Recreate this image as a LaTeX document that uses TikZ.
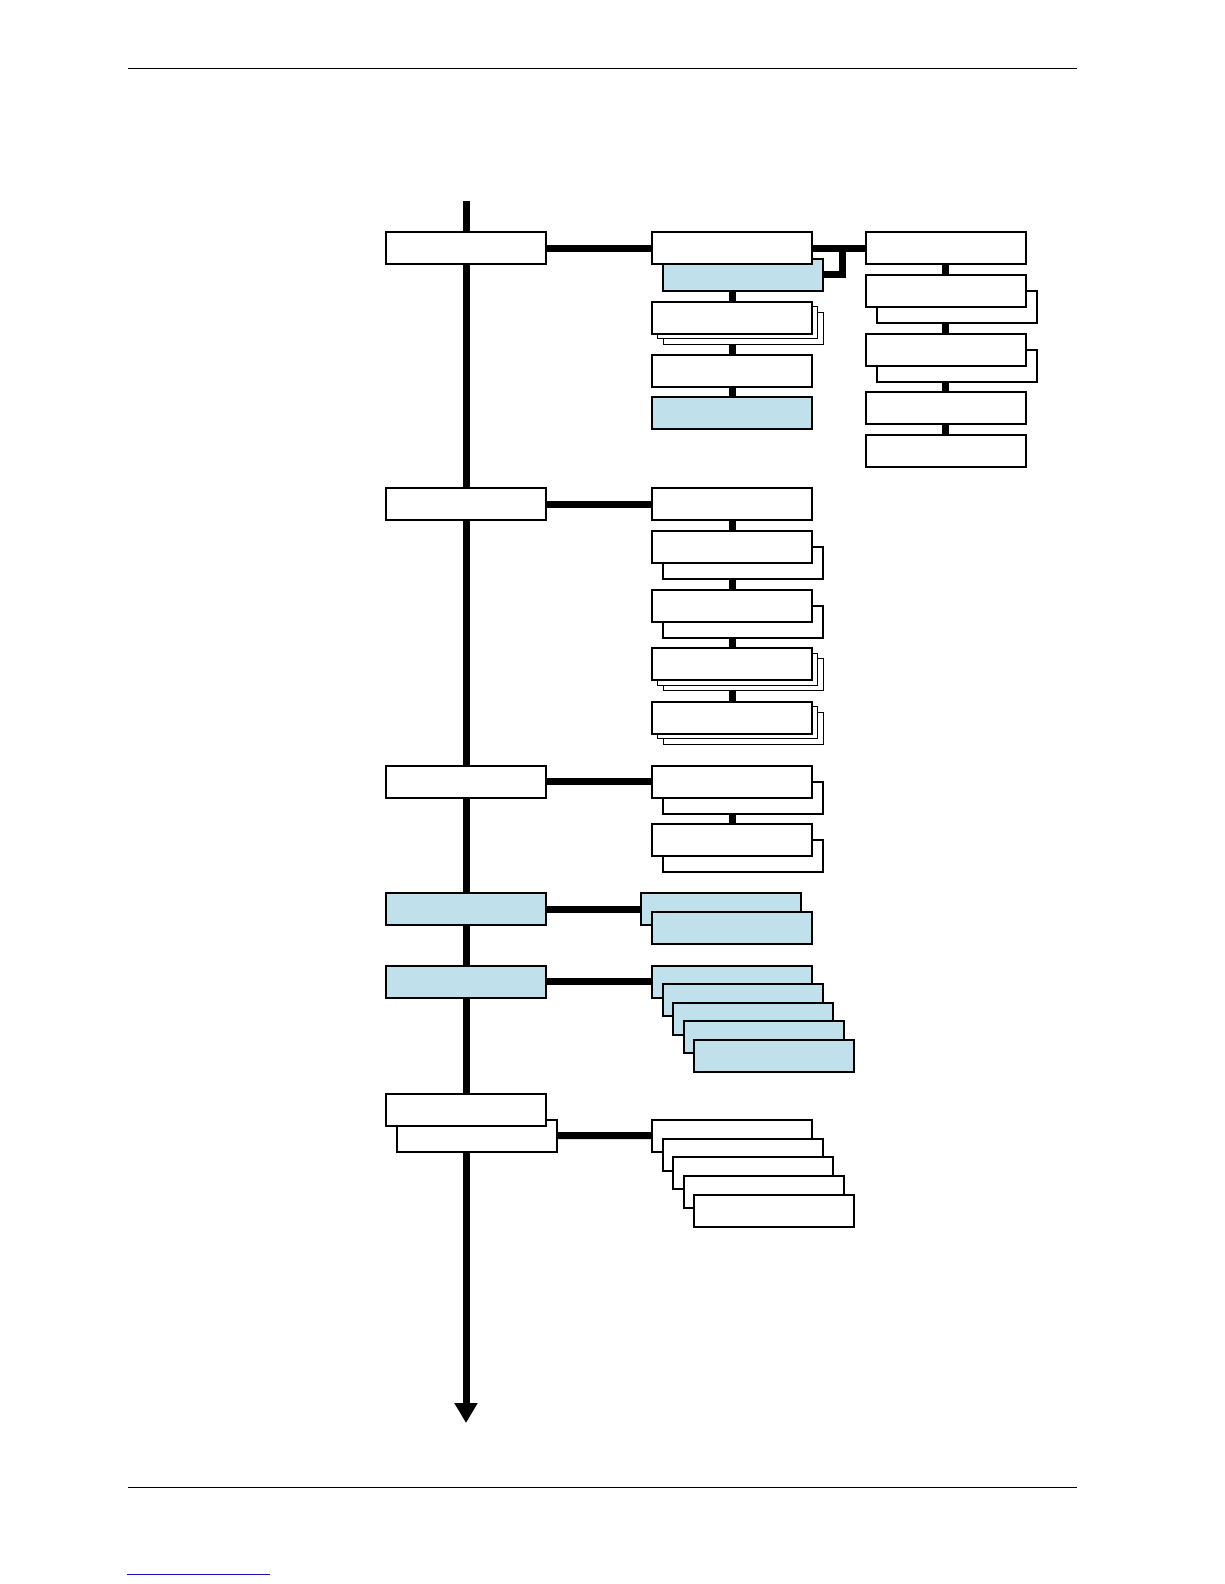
\documentclass[tikz,border=0pt]{standalone}
\usetikzlibrary{arrows.meta}
\definecolor{paleblue}{RGB}{192,224,236}
\definecolor{linkblue}{RGB}{20,20,190}
\begin{document}
\begin{tikzpicture}[x=1pt,y=-1pt,
        box/.style={draw,line width=2pt,fill=white,minimum width=160pt,minimum height=32pt,inner sep=0pt,outer sep=0pt},
        bluebox/.style={box,fill=paleblue},
        thinbox/.style={box,line width=0.9pt},
        link/.style={line width=7pt},
        rule/.style={line width=1pt}]
    \useasboundingbox (0,0) rectangle (1224,1584);
    \draw[rule] (128,69) -- (1077,69);
    \draw[rule] (128,1487) -- (1077,1487);
    \draw[rule,linkblue] (127,1574) -- (270,1574);
    \coordinate (top) at (466,201);
    \coordinate (bottom) at (466,1423);
    \draw[link,-{Triangle[length=20pt,width=22pt]}] (top) -- (bottom);
    \coordinate (B1x) at (732,248);
    \coordinate (B4x) at (732,413);
    \coordinate (C1x) at (945.5,248);
    \coordinate (C5x) at (945.5,451);
    \coordinate (D1x) at (732,504);
    \coordinate (D5x) at (732,717.5);
    \coordinate (E1x) at (732,781.5);
    \coordinate (E2x) at (732,840);
    \draw[link] (B1x) -- (B4x);
    \draw[link] (C1x) -- (C5x);
    \draw[link] (D1x) -- (D5x);
    \draw[link] (E1x) -- (E2x);
    % first column
    \node[box] (A1) at (466,248) {};
    \node[box] (A2) at (466,504) {};
    \node[box] (A3) at (466,781.5) {};
    \node[bluebox] (A4) at (466,909) {};
    \node[bluebox] (A5) at (466,981.5) {};
    \node[box] (A6b) at (477,1135.5) {};
    \node[box] (A6) at (466,1109.5) {};
    % second column
    \node[bluebox] (B1b) at (743,274.5) {};
    \node[box] (B1) at (B1x) {};
    \node[thinbox] (B2c) at (743,328) {};
    \node[thinbox] (B2b) at (737.5,322.5) {};
    \node[box] (B2) at (732,317.5) {};
    \node[box] (B3) at (732,370.5) {};
    \node[bluebox] (B4) at (B4x) {};
    \node[box] (D1) at (D1x) {};
    \node[box] (D2b) at (743,563) {};
    \node[box] (D2) at (732,547) {};
    \node[box] (D3b) at (743,621.5) {};
    \node[box] (D3) at (732,605.5) {};
    \node[thinbox] (D4c) at (743,674) {};
    \node[thinbox] (D4b) at (737.5,669) {};
    \node[box] (D4) at (732,664) {};
    \node[thinbox] (D5c) at (743,728) {};
    \node[thinbox] (D5b) at (737.5,722.5) {};
    \node[box] (D5) at (D5x) {};
    \node[box] (E1b) at (743,797.5) {};
    \node[box] (E1) at (E1x) {};
    \node[box] (E2b) at (743,856) {};
    \node[box] (E2) at (E2x) {};
    \node[bluebox] (F1) at (721,909) {};
    \node[bluebox] (F2) at (732,928) {};
    \foreach \i in {0,...,4}
        \node[bluebox] (G\i) at ({732+10.6*\i},{981.5+18.6*\i}) {};
    \foreach \i in {0,...,4}
        \node[box] (H\i) at ({732+10.6*\i},{1135.7+18.85*\i}) {};
    % third column
    \node[box] (C1) at (C1x) {};
    \node[box] (C2b) at (956.5,307) {};
    \node[box] (C2) at (945.5,291) {};
    \node[box] (C3b) at (956.5,365.5) {};
    \node[box] (C3) at (945.5,349.5) {};
    \node[box] (C4) at (945.5,408) {};
    \node[box] (C5) at (C5x) {};
    % branches
    \draw[link] (A1) -- (B1);
    \draw[link] (B1) -- (C1);
    \draw[link] (B1b.east) -- ++(19,0) |- (B1.east);
    \draw[link] (A2) -- (D1);
    \draw[link] (A3) -- (E1);
    \draw[link] (A4) -- (F1);
    \draw[link] (A5) -- (G0);
    \draw[link] (A6b) -- (H0);
\end{tikzpicture}
\end{document}
